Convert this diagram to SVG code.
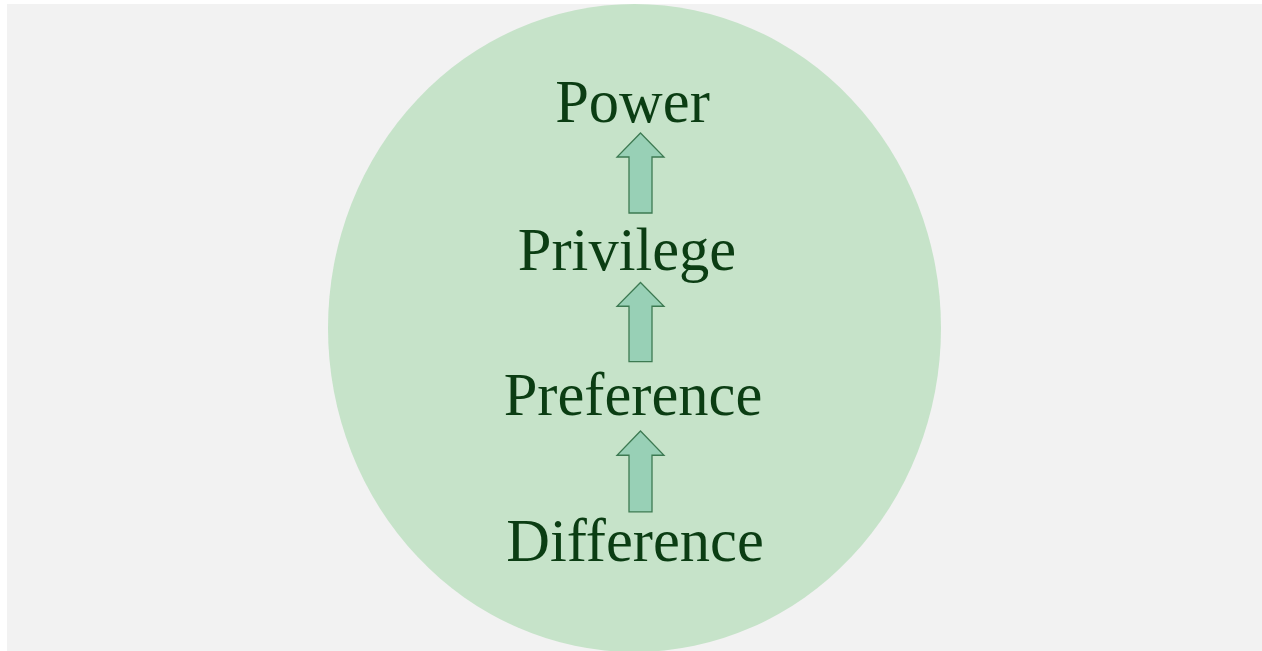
<svg xmlns="http://www.w3.org/2000/svg" width="1262" height="651" viewBox="0 0 1262 651">
<style>
.lbl{font-family:"Liberation Serif","Times New Roman",serif;font-size:60.5px;fill:#0b3d13;text-anchor:middle}
.arr{fill:#98d0b6;stroke:#3d7a52;stroke-width:1.3;stroke-linejoin:miter}
</style>
<defs>
<path id="up" d="M0,0 L23.5,24 L11.5,24 L11.5,80 L-11.5,80 L-11.5,24 L-23.5,24 Z"/>
</defs>
<rect x="0" y="0" width="1262" height="651" fill="#ffffff"/>
<rect x="7" y="4" width="1255" height="647" fill="#f2f2f2"/>
<ellipse id="circle" cx="634.5" cy="328" rx="306.5" ry="324" fill="#c6e3c9"/>
<g id="connectors">
<use href="#up" class="arr" transform="translate(640.5,133)" />
<use href="#up" class="arr" transform="translate(640.5,282.5) scale(1,0.99)" />
<use href="#up" class="arr" transform="translate(640.5,431) scale(1,1.01)" />
</g>
<g id="power"><text class="lbl" x="632.5" y="121.5">Power</text></g>
<g id="privilege"><text class="lbl" x="627" y="269.5">Privilege</text></g>
<g id="preference"><text class="lbl" x="633" y="415">Preference</text></g>
<g id="difference"><text class="lbl" x="635" y="561">Difference</text></g>
</svg>
